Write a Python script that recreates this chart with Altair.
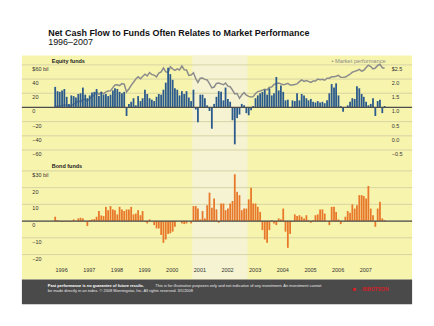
import altair as alt
import pandas as pd

FONT = "Liberation Sans"

years = list(range(1996, 2008))

# Net new cash flow to equity funds, $ billions, monthly 1996-2007
equity_flows = [
    29, 23, 22, 24, 26, 15, 5, 17, 16, 14, 19, 20,
    28, 18, 13, 17, 21, 22, 26, 16, 22, 18, 19, 16,
    18, 24, 27, 26, 22, 20, 22, -12, 5, 8, 13, 3,
    16, 9, 13, 25, 19, 13, 11, 9, 15, 19, 18, 25,
    35, 56, 47, 39, 27, 25, 17, 23, 19, 23, 14, 9,
    25, -3, -21, 18, 18, 13, 3, -5, -30, 5, 15, 23,
    22, 10, 28, 12, 8, -18, -52, -15, -10, 5, 3, -8,
    -11, -4, 2, 13, 17, 20, 22, 25, 18, 27, 17, 20,
    43, 24, 31, 22, 10, 11, 0, 10, 9, 20, 10, 19,
    17, 13, 10, 12, 8, 7, 9, 7, 8, 6, 10, 20,
    33, 28, 34, 17, 2, -6, 0, 3, 8, 13, 12, 30,
    27, 19, 15, 8, 3, 5, 13, -12, 9, 11, -8, 2,
]

# Net new cash flow to bond funds, $ billions, monthly 1996-2007
bond_flows = [
    2.6, 0.6, 0.2, -0.4, -0.4, 0.2, -0.4, -0.4, 1, 0.2, 1.6, 2,
    1.6, 0.2, -3, 0.6, 1, 1.2, 2.6, 6, 3.4, 3, 8.5, 6.5,
    9, 7, 6.5, 4, 8.5, 7, 6, 7, 7, 8.5, 4, 4.5,
    6.5, 3.5, 6, -0.4, -1.4, 1, 0, -2.4, -4.4, -4.4, -8.3, -13,
    -11, -7.7, -7.3, -6.3, -3.4, 0, 0, -1.4, -1.8, -1.4, 0, -1.4,
    9, 9, 7.5, 1, 6, 1.6, 9.5, 17, 8, 13.5, 7, -1,
    10.5, 10.5, 6.5, 7.5, 10.5, 12, 28, 17.5, 15.5, 6.5, 7.5, 7.5,
    13, 20, 10.5, 10.5, 8.5, 5.5, -5.4, -11, -13, -5.4, 0.5, -1.4,
    -2.4, 1.6, 1, 7.5, -6.3, -16, -7.7, -0.5, 4, 3, 3.5, 2.6,
    1.5, 3.5, 0.5, -1, 0.5, 3.5, 4, 7, 7, 4.5, 0, -2.4,
    8.5, 8.5, 5.5, 1, -1.8, 0, 2.6, 6, 5, 10, 7.5, 9.5,
    15.5, 15.5, 15, 13.5, 21, 7.5, 3.5, -3.4, 7.5, 11.5, 1.6, 0.6,
]

# Market performance (growth of $1), monthly 1996-2007
market_index = [
    1.03, 1.04, 1.05, 1.06, 1.09, 1.09, 1.04, 1.06, 1.12, 1.15, 1.23, 1.20,
    1.28, 1.28, 1.23, 1.30, 1.38, 1.44, 1.55, 1.46, 1.54, 1.48, 1.55, 1.58,
    1.59, 1.70, 1.79, 1.80, 1.77, 1.84, 1.82, 1.55, 1.65, 1.78, 1.89, 2.00,
    2.08, 2.01, 2.09, 2.17, 2.11, 2.23, 2.16, 2.14, 2.08, 2.21, 2.25, 2.39,
    2.26, 2.22, 2.43, 2.36, 2.31, 2.36, 2.32, 2.46, 2.33, 2.32, 2.13, 2.14,
    2.22, 2.01, 1.88, 2.03, 2.04, 1.99, 1.97, 1.84, 1.69, 1.72, 1.85, 1.86,
    1.83, 1.80, 1.86, 1.75, 1.73, 1.61, 1.48, 1.49, 1.32, 1.44, 1.52, 1.43,
    1.39, 1.37, 1.38, 1.49, 1.56, 1.58, 1.61, 1.64, 1.62, 1.71, 1.72, 1.81,
    1.84, 1.86, 1.83, 1.80, 1.82, 1.85, 1.79, 1.79, 1.81, 1.83, 1.91, 1.97,
    1.92, 1.95, 1.92, 1.88, 1.93, 1.93, 2.00, 1.98, 1.99, 1.96, 2.03, 2.03,
    2.08, 2.08, 2.10, 2.13, 2.06, 2.06, 2.07, 2.12, 2.17, 2.24, 2.27, 2.30,
    2.34, 2.28, 2.31, 2.41, 2.49, 2.44, 2.36, 2.39, 2.48, 2.52, 2.40, 2.38,
]

equity_ticks = [-60, -40, -20, 0, 20, 40, 60]
market_ticks = [-0.5, 0.0, 0.5, 1.0, 1.5, 2.0, 2.5]
bond_ticks = [-20, -10, 0, 10, 20, 30]

band_start = "2001-01-01"
band_end = "2003-01-01"

title_text = "Net Cash Flow to Funds Often Relates to Market Performance"
subtitle_text = "1996\u20132007"
footer_bold = "Past performance is no guarantee of future results."
footer_rest = ("This is for illustrative purposes only and not indicative of any "
               "investment. An investment cannot")
footer_line2 = ("be made directly in an index. \u00a9 2008 Morningstar, Inc. "
                "All rights reserved. 3/1/2008")

# ---------------------------------------------------------------- data frames
months = pd.date_range(f"{years[0]}-01-01", periods=len(equity_flows), freq="MS")
mid = months + pd.Timedelta(days=15)
eq_df = pd.DataFrame({"date": mid, "equity": equity_flows, "market": market_index})
bd_df = pd.DataFrame({"date": mid, "bond": bond_flows})
band_df = pd.DataFrame({"start": [pd.Timestamp(band_start)], "end": [pd.Timestamp(band_end)]})
eq_grid_df = pd.DataFrame({"v": equity_ticks})
bd_grid_df = pd.DataFrame({"v": bond_ticks})
one = pd.DataFrame({"a": [0]})

# ---------------------------------------------------------------- style
W, H1, H2, H3 = 392, 103, 122, 25
YELLOW = "#f7f4ae"
BAND = "#f5f3d2"
GRID = "#d3d0a2"
BLUE = "#2b5b8c"
ORANGE = "#e8792b"
LABEL = "#333333"

xscale = alt.Scale(domain=[alt.DateTime(year=1995, month=1, date=7),
                           alt.DateTime(year=2008, month=10, date=9)])

eq_scale = alt.Scale(domain=[-71.23, 73.33], nice=False, zero=False)
mk_scale = alt.Scale(domain=[-0.781, 2.833], nice=False, zero=False)
bd_scale = alt.Scale(domain=[-34.88, 37.74], nice=False, zero=False)


def left_axis(values, top_label):
    return alt.Axis(orient="left", values=values,
                    labelExpr=f"datum.value == {values[-1]} ? '{top_label}' : datum.label",
                    grid=False, domain=False, ticks=False, zindex=1,
                    labelAlign="left", labelBaseline="top", labelPadding=-10, labelOffset=1.5,
                    labelFont=FONT, labelFontSize=5.5, labelColor=LABEL, title=None)


year_axis = alt.Axis(orient="bottom", values=[alt.DateTime(year=y) for y in years],
                     format="%Y", labelAlign="left", labelBaseline="top", labelOffset=1,
                     labelPadding=0, offset=-12, domain=False, ticks=False, grid=False,
                     zindex=1, labelOverlap=False, labelFont=FONT, labelFontSize=5.5,
                     labelColor=LABEL, title=None)

# ---------------------------------------------------------------- equity panel
eq_band = alt.Chart(band_df).mark_rect(color=BAND).encode(
    x=alt.X("start:T", scale=xscale, axis=None), x2="end:T")

eq_grid = alt.Chart(eq_grid_df).mark_rule(color=GRID, strokeWidth=0.9).encode(
    y=alt.Y("v:Q", scale=eq_scale, axis=None))

mk_line = alt.Chart(eq_df).mark_line(color="#8c8c8c", strokeWidth=1.5).encode(
    x=alt.X("date:T", scale=xscale, axis=None),
    y=alt.Y("market:Q", scale=mk_scale,
            axis=alt.Axis(orient="right", values=market_ticks,
                          labelExpr="datum.value == 2.5 ? '$2.5' : format(datum.value, '.1f')",
                          grid=False, domain=False, ticks=False, zindex=1, labelAlign="left",
                          labelBaseline="top", labelPadding=-21, labelOffset=1.5,
                          labelFont=FONT, labelFontSize=5.5, labelColor=LABEL, title=None)))

eq_bars = alt.Chart(eq_df).mark_bar(color=BLUE, width=1.8).encode(
    x=alt.X("date:T", scale=xscale, axis=None),
    y=alt.Y("equity:Q", scale=eq_scale, axis=left_axis(equity_ticks, "$60 bil")))

eq_zero = alt.Chart(one).mark_rule(color="#4d4d4d", strokeWidth=1.2).encode(
    y=alt.YDatum(0, scale=eq_scale, axis=None))

eq_label = alt.Chart(one).mark_text(text="Equity funds", font=FONT, fontSize=5.5,
                                    fontWeight="bold", align="left", baseline="middle",
                                    color="#222222").encode(x=alt.value(30), y=alt.value(6))
legend = alt.Chart(one).mark_text(text="\u2022 Market performance", font=FONT, fontSize=5.7,
                                  align="left", baseline="middle",
                                  color="#8c8c8c").encode(x=alt.value(311), y=alt.value(6))

eq_panel = alt.layer(eq_band, eq_grid, mk_line, eq_bars, eq_zero, eq_label, legend).resolve_scale(
    y="independent").properties(width=W, height=H1,
                                view=alt.ViewBackground(fill=YELLOW, strokeWidth=0))

# ---------------------------------------------------------------- bond panel
bd_band = alt.Chart(band_df).mark_rect(color=BAND).encode(
    x=alt.X("start:T", scale=xscale, axis=year_axis), x2="end:T")

bd_grid = alt.Chart(bd_grid_df).mark_rule(color=GRID, strokeWidth=0.9).encode(
    y=alt.Y("v:Q", scale=bd_scale, axis=None))

bd_bars = alt.Chart(bd_df).mark_bar(color=ORANGE, width=1.8).encode(
    x=alt.X("date:T", scale=xscale, axis=year_axis),
    y=alt.Y("bond:Q", scale=bd_scale, axis=left_axis(bond_ticks, "$30 bil")))

bd_zero = alt.Chart(one).mark_rule(color="#4d4d4d", strokeWidth=1.2).encode(
    y=alt.YDatum(0, scale=bd_scale, axis=None))

bd_label = alt.Chart(one).mark_text(text="Bond funds", font=FONT, fontSize=5.5,
                                    fontWeight="bold", align="left", baseline="middle",
                                    color="#222222").encode(x=alt.value(30), y=alt.value(8))

bd_panel = alt.layer(bd_band, bd_grid, bd_bars, bd_zero, bd_label).resolve_scale(
    y="independent").properties(width=W, height=H2,
                                view=alt.ViewBackground(fill=YELLOW, strokeWidth=0))

# ---------------------------------------------------------------- footer
ft = alt.Chart(one)
f1 = ft.mark_text(text=footer_bold, font=FONT, fontSize=4, fontWeight="bold", align="left",
                  baseline="middle", color="white").encode(x=alt.value(26), y=alt.value(7))
f2 = ft.mark_text(text=footer_rest, font=FONT, fontSize=4, align="left",
                  baseline="middle", color="#e8e8e8").encode(x=alt.value(134), y=alt.value(7))
f3 = ft.mark_text(text=footer_line2, font=FONT, fontSize=4, align="left",
                  baseline="middle", color="#e8e8e8").encode(x=alt.value(26), y=alt.value(12))
logo1 = ft.mark_text(text="\u25a0", font=FONT, fontSize=6, align="left", baseline="middle",
                     color="#d42027").encode(x=alt.value(332), y=alt.value(10))
logo2 = ft.mark_text(text="IBBOTSON", font=FONT, fontSize=5, fontWeight="bold", align="left",
                     baseline="middle", color="#d42027").encode(x=alt.value(342), y=alt.value(10))

footer = alt.layer(f1, f2, f3, logo1, logo2).properties(
    width=W, height=H3, view=alt.ViewBackground(fill="#4a4a4a", strokeWidth=0))

chart = alt.vconcat(eq_panel, bd_panel, footer, spacing=0).properties(
    padding={"left": 21, "right": 21, "top": 28, "bottom": 0},
    title=alt.TitleParams(text=title_text, subtitle=subtitle_text, anchor="start", dx=27,
                          font=FONT, fontSize=9, fontWeight="bold", color="#111111",
                          subtitleFont=FONT, subtitleFontSize=9, subtitleColor="#111111",
                          subtitlePadding=1, offset=8),
).configure(background="white").configure_view(strokeWidth=0)

chart.save("out.html", embed_options={"renderer": "svg", "actions": False})
